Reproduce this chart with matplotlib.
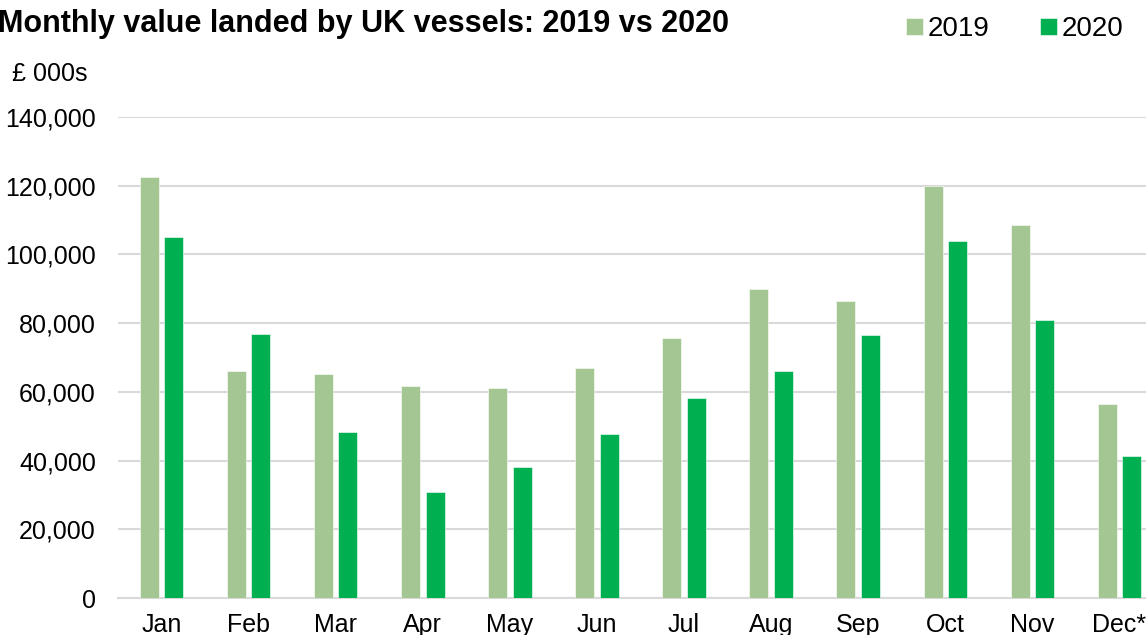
import matplotlib
matplotlib.use("Agg")
import matplotlib.pyplot as plt
import numpy as np

plt.rcParams['font.family'] = ['Liberation Sans', 'DejaVu Sans']

months = ["Jan", "Feb", "Mar", "Apr", "May", "Jun", "Jul", "Aug", "Sep", "Oct", "Nov", "Dec*"]
values_2019 = [122600, 66100, 65200, 61700, 61100, 67000, 75700, 90000, 86500, 119900, 108600, 56500]
values_2020 = [105100, 76900, 48300, 30900, 38100, 47700, 58200, 66100, 76600, 103900, 80900, 41300]
y_ticks = [0, 20000, 40000, 60000, 80000, 100000, 120000, 140000]

color_2019 = "#A3C693"
color_2020 = "#00B050"
grid_color = "#D9D9D9"

W, H = 1146, 635
fig = plt.figure(figsize=(W / 100, H / 100), dpi=100)
ax = fig.add_axes([118 / W, 37 / H, 1045 / W, 481 / H])

x = np.arange(len(months))
bw = 0.218
off = 0.141
ax.bar(x - off, values_2019, width=bw, color=color_2019, edgecolor="white", linewidth=0.4, label="2019", zorder=3)
ax.bar(x + off, values_2020, width=bw, color=color_2020, edgecolor="white", linewidth=0.4, label="2020", zorder=3)

ax.set_xlim(-0.5, len(months) - 0.5)
ax.set_ylim(0, 140000)
ax.set_yticks(y_ticks)
ax.set_yticklabels([f"{v:,}" for v in y_ticks])
ax.set_xticks(x)
ax.set_xticklabels(months)
ax.tick_params(axis="both", length=0, labelsize=18, colors="black")
ax.tick_params(axis="y", pad=16)
ax.tick_params(axis="x", pad=11)

ax.yaxis.grid(True, color=grid_color, linewidth=1.5, zorder=0)
ax.set_axisbelow(True)
for s in ["top", "right", "left"]:
    ax.spines[s].set_visible(False)
ax.spines["bottom"].set_color(grid_color)
ax.spines["bottom"].set_linewidth(1.5)

fig.text(-2 / W, 1 - 32 / H, "Monthly value landed by UK vessels: 2019 vs 2020",
         fontsize=22, fontweight="bold", ha="left", va="baseline")
fig.text(12 / W, 1 - 81 / H, "£ 000s", fontsize=18, ha="left", va="baseline")

leg = fig.legend(loc="upper right", bbox_to_anchor=(1134 / W, 1 - 5 / H), ncol=2, frameon=False,
                 fontsize=20, handlelength=0.6, handleheight=0.6, handletextpad=0.15,
                 columnspacing=1.84, borderaxespad=0)

fig.savefig("out.png", dpi=100)
